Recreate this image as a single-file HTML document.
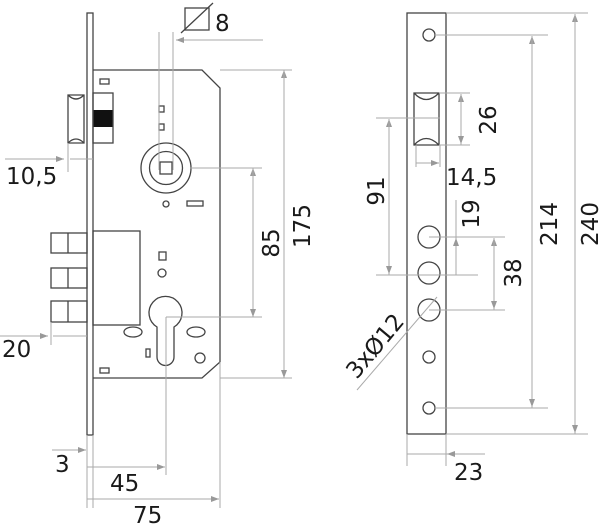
<!DOCTYPE html>
<html><head><style>body{margin:0;background:#fff}svg{display:block}text{font-family:"DejaVu Sans","Liberation Sans",sans-serif;fill:#1a1a1a;font-size:23px}</style></head>
<body>
<svg width="600" height="525" viewBox="0 0 600 525" xmlns="http://www.w3.org/2000/svg">
<defs><marker id="a" markerWidth="8" markerHeight="6" refX="8" refY="3" orient="auto" markerUnits="userSpaceOnUse"><path d="M0,0 L8,3 L0,6 z" fill="#999"/></marker></defs>
<rect x="93" y="110" width="20" height="17" fill="#111"/>
<g fill="none" stroke="#444" stroke-width="1.3">
<rect x="87" y="13" width="6" height="422"/>
<path d="M93,70 H202 L220,88 V362 L202,378 H93"/>
<path d="M68,95 H84 V143 H68 Z M68,95 Q76,103 84,95 M68,143 Q76,135 84,143"/>
<rect x="93" y="93" width="20" height="50"/>
<rect x="100" y="79" width="9" height="5"/>
<rect x="159" y="106" width="5" height="6"/><rect x="159" y="124" width="5" height="6"/>
<circle cx="166" cy="168" r="25"/><circle cx="166" cy="168" r="16.5"/>
<rect x="160" y="162" width="12" height="12"/>
<circle cx="166" cy="204" r="3"/><rect x="187" y="201" width="16" height="5"/>
<rect x="51" y="233" width="36" height="20"/><line x1="68" y1="233" x2="68" y2="253"/>
<rect x="51" y="268" width="36" height="20"/><line x1="68" y1="268" x2="68" y2="288"/>
<rect x="51" y="301" width="36" height="21"/><line x1="68" y1="301" x2="68" y2="322"/>
<rect x="93" y="231" width="47" height="94"/>
<rect x="159" y="252" width="7" height="8"/><circle cx="162" cy="273" r="4"/>
<path d="M157,327 A16.5,16.5 0 1 1 174,327 V357 A8.5,8.5 0 0 1 157,357 Z"/>
<ellipse cx="133" cy="332" rx="9" ry="5"/><ellipse cx="196" cy="332" rx="9" ry="5"/>
<rect x="146" y="349" width="4" height="8"/><circle cx="200" cy="358" r="5"/>
<rect x="100" y="368" width="9" height="5"/>
<rect x="185" y="8" width="24" height="22"/><line x1="181" y1="33" x2="213" y2="3"/>
<rect x="407" y="13" width="39" height="421"/>
<circle cx="429" cy="35" r="6"/><circle cx="429" cy="237" r="11"/><circle cx="429" cy="273" r="11"/><circle cx="429" cy="310" r="11"/><circle cx="429" cy="357" r="6"/><circle cx="429" cy="408" r="6"/>
<path d="M414,93 H439 V145 H414 Z M414,93 Q426,106 439,93 M414,145 Q426,132 439,145"/>
</g>
<g fill="none" stroke="#aaa" stroke-width="1">
<line x1="159" y1="32" x2="159" y2="170"/><line x1="173" y1="32" x2="173" y2="170"/>
<line x1="263" y1="40" x2="176" y2="40" marker-end="url(#a)"/>
<line x1="220" y1="70" x2="292" y2="70"/><line x1="220" y1="378" x2="292" y2="378"/>
<line x1="284" y1="378" x2="284" y2="70" marker-end="url(#a)"/><line x1="284" y1="70" x2="284" y2="378" marker-end="url(#a)"/>
<line x1="190" y1="168" x2="262" y2="168"/><line x1="166" y1="317" x2="262" y2="317"/>
<line x1="253" y1="317" x2="253" y2="168" marker-end="url(#a)"/><line x1="253" y1="168" x2="253" y2="317" marker-end="url(#a)"/>
<line x1="68" y1="143" x2="68" y2="172"/><line x1="5" y1="159" x2="64" y2="159" marker-end="url(#a)"/><line x1="93" y1="159" x2="70" y2="159"/>
<line x1="51" y1="322" x2="51" y2="345"/><line x1="0" y1="336" x2="48" y2="336" marker-end="url(#a)"/><line x1="53" y1="336" x2="87" y2="336"/>
<line x1="87" y1="435" x2="87" y2="508"/><line x1="93" y1="435" x2="93" y2="508"/>
<line x1="52" y1="450" x2="86" y2="450" marker-end="url(#a)"/>
<line x1="166" y1="317" x2="166" y2="475"/><line x1="87" y1="467" x2="165" y2="467" marker-end="url(#a)"/>
<line x1="220" y1="362" x2="220" y2="508"/><line x1="87" y1="499" x2="219" y2="499" marker-end="url(#a)"/>
<line x1="446" y1="13" x2="588" y2="13"/><line x1="446" y1="434" x2="588" y2="434"/>
<line x1="575" y1="434" x2="575" y2="14" marker-end="url(#a)"/><line x1="575" y1="14" x2="575" y2="433" marker-end="url(#a)"/>
<line x1="435" y1="35" x2="548" y2="35"/><line x1="435" y1="408" x2="548" y2="408"/>
<line x1="532" y1="408" x2="532" y2="36" marker-end="url(#a)"/><line x1="532" y1="36" x2="532" y2="407" marker-end="url(#a)"/>
<line x1="439" y1="93" x2="470" y2="93"/><line x1="439" y1="145" x2="470" y2="145"/>
<line x1="461" y1="145" x2="461" y2="94" marker-end="url(#a)"/><line x1="461" y1="94" x2="461" y2="144" marker-end="url(#a)"/>
<line x1="416" y1="145" x2="416" y2="167"/><line x1="440" y1="145" x2="440" y2="167"/>
<line x1="416" y1="163" x2="439" y2="163" marker-end="url(#a)"/>
<line x1="376" y1="118" x2="440" y2="118"/><line x1="376" y1="275" x2="478" y2="275"/>
<line x1="389" y1="275" x2="389" y2="119" marker-end="url(#a)"/><line x1="389" y1="119" x2="389" y2="274" marker-end="url(#a)"/>
<line x1="456" y1="200" x2="456" y2="275"/><line x1="456" y1="275" x2="456" y2="238" marker-end="url(#a)"/>
<line x1="429" y1="237" x2="505" y2="237"/><line x1="429" y1="310" x2="505" y2="310"/>
<line x1="494" y1="310" x2="494" y2="238" marker-end="url(#a)"/><line x1="494" y1="238" x2="494" y2="309" marker-end="url(#a)"/>
<line x1="437" y1="297" x2="357" y2="390"/>
<line x1="407" y1="434" x2="407" y2="466"/><line x1="446" y1="434" x2="446" y2="466"/>
<line x1="407" y1="454" x2="485" y2="454"/><line x1="485" y1="454" x2="447" y2="454" marker-end="url(#a)"/>
</g>
<text x="215" y="31" font-size="29">8</text>
<text x="6" y="184">10,5</text>
<text x="2" y="357">20</text>
<text x="55" y="472">3</text>
<text x="110" y="491">45</text>
<text x="133" y="523">75</text>
<text transform="translate(279,243) rotate(-90)" text-anchor="middle">85</text>
<text transform="translate(310,226) rotate(-90)" text-anchor="middle">175</text>
<text transform="translate(496,120) rotate(-90)" text-anchor="middle">26</text>
<text x="446" y="185">14,5</text>
<text transform="translate(384,191) rotate(-90)" text-anchor="middle">91</text>
<text transform="translate(479,214) rotate(-90)" text-anchor="middle">19</text>
<text transform="translate(521,273) rotate(-90)" text-anchor="middle">38</text>
<text transform="translate(557,224) rotate(-90)" text-anchor="middle">214</text>
<text transform="translate(598,224) rotate(-90)" text-anchor="middle">240</text>
<text transform="translate(381,351) rotate(-50)" text-anchor="middle">3xØ12</text>
<text x="454" y="480">23</text>
</svg>
</body></html>
